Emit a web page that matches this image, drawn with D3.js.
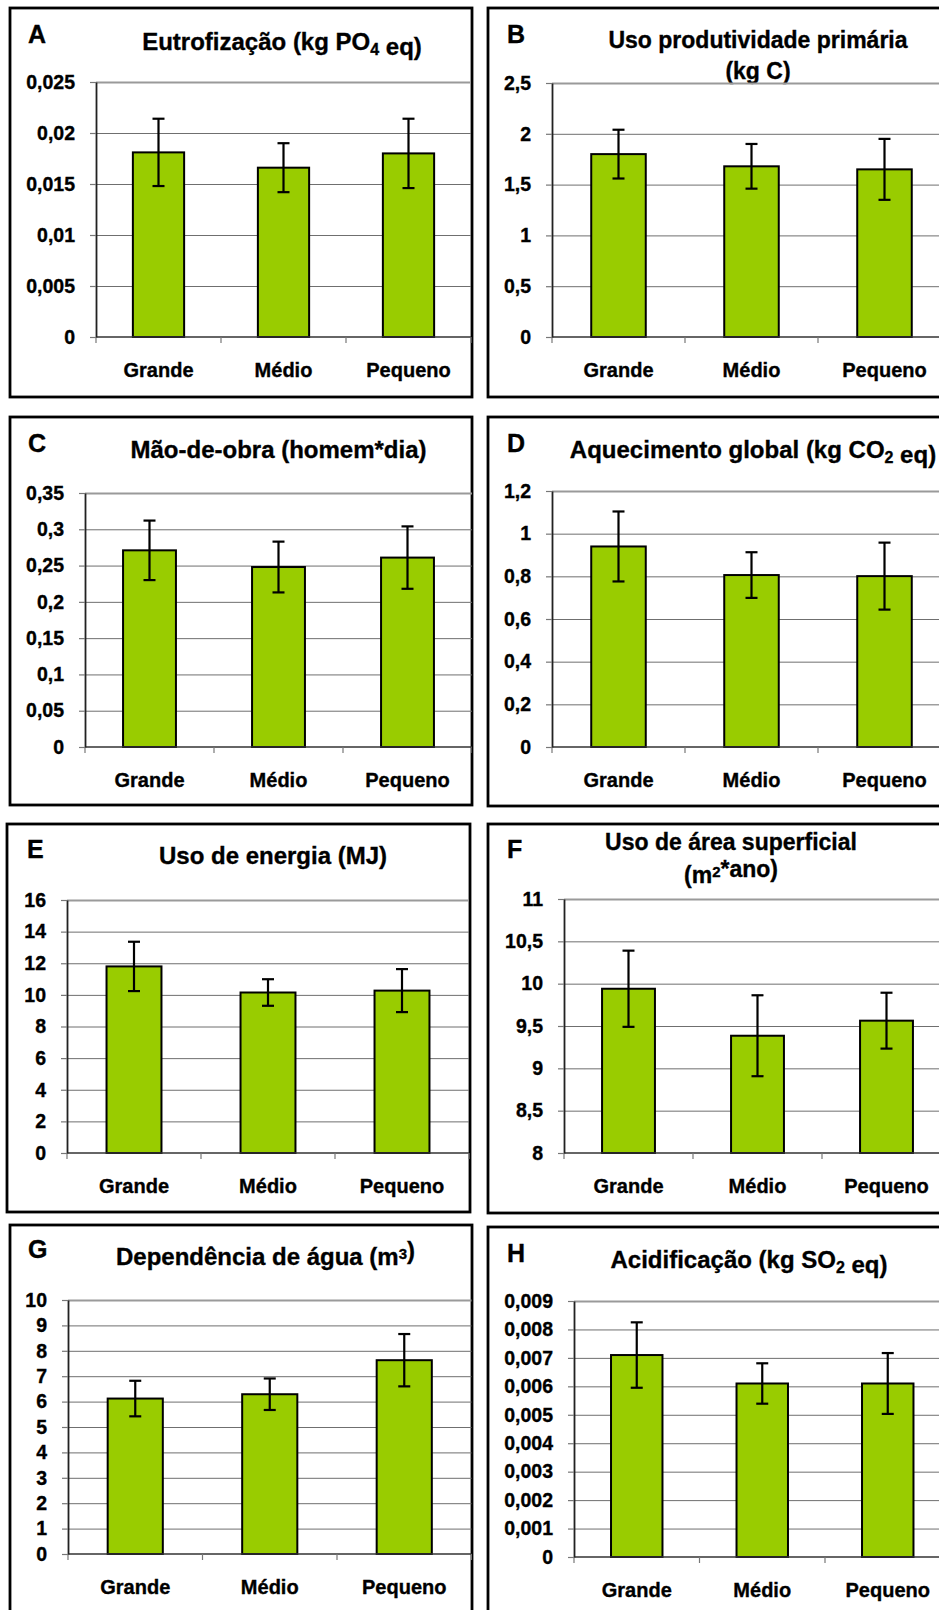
<!DOCTYPE html>
<html><head><meta charset="utf-8">
<script src="https://cdn.jsdelivr.net/npm/d3@7"></script>
<style>
body{margin:0;background:#fff}
svg{display:block}
text{font-family:"Liberation Sans", Arial, Helvetica, sans-serif;font-weight:bold;fill:#000;stroke:#000;stroke-width:0.35px}
</style>
</head><body>
<svg id="chart" width="939" height="1610"></svg>
<script>
// ---------------- DATA ----------------
const categories = ["Grande", "Médio", "Pequeno"];

const valuesA = [0.0181, 0.0166, 0.0180];
const errorsA = [0.0033, 0.0024, 0.0034];
const ticksA  = [0, 0.005, 0.01, 0.015, 0.02, 0.025];

const valuesB = [1.80, 1.68, 1.65];
const errorsB = [0.24, 0.22, 0.30];
const ticksB  = [0, 0.5, 1, 1.5, 2, 2.5];

const valuesC = [0.271, 0.248, 0.261];
const errorsC = [0.041, 0.035, 0.043];
const ticksC  = [0, 0.05, 0.1, 0.15, 0.2, 0.25, 0.3, 0.35];

const valuesD = [0.94, 0.806, 0.801];
const errorsD = [0.164, 0.107, 0.157];
const ticksD  = [0, 0.2, 0.4, 0.6, 0.8, 1, 1.2];

const valuesE = [11.8, 10.15, 10.27];
const errorsE = [1.56, 0.84, 1.36];
const ticksE  = [0, 2, 4, 6, 8, 10, 12, 14, 16];

const valuesF = [9.94, 9.385, 9.563];
const errorsF = [0.45, 0.478, 0.33];
const ticksF  = [8, 8.5, 9, 9.5, 10, 10.5, 11];

const valuesG = [6.12, 6.29, 7.63];
const errorsG = [0.70, 0.62, 1.03];
const ticksG  = [0, 1, 2, 3, 4, 5, 6, 7, 8, 9, 10];

const valuesH = [0.0071, 0.0061, 0.0061];
const errorsH = [0.00115, 0.00071, 0.00107];
const ticksH  = [0, 0.001, 0.002, 0.003, 0.004, 0.005, 0.006, 0.007, 0.008, 0.009];

const letters = ["A", "B", "C", "D", "E", "F", "G", "H"];
const titles = [
  ["Eutrofização (kg PO_{4} eq)"],
  ["Uso produtividade primária", "(kg C)"],
  ["Mão-de-obra (homem*dia)"],
  ["Aquecimento global (kg CO_{2} eq)"],
  ["Uso de energia (MJ)"],
  ["Uso de área superficial", "(m^{2}*ano)"],
  ["Dependência de água (m^{3})"],
  ["Acidificação (kg SO_{2} eq)"]
];

// ---------------- LAYOUT ----------------
const layouts = [
  {frame:[10,8,462,389],    letter:[28,43],   tx:282,   ty:[50],      x0:96,  band:125,   top:82,  bottom:337},
  {frame:[488,8,480,389],   letter:[507,43],  tx:758,   ty:[48,79],   x0:552, band:133,   top:83,  bottom:337},
  {frame:[10,417,462,388],  letter:[28,452],  tx:278.5, ty:[458],     x0:85,  band:129,   top:493, bottom:747},
  {frame:[488,417,480,389], letter:[507,452], tx:753,   ty:[458],     x0:552, band:133,   top:491, bottom:747},
  {frame:[7,824,463,388],   letter:[27,858],  tx:273,   ty:[864],     x0:67,  band:134,   top:900, bottom:1153},
  {frame:[488,824,480,389], letter:[507,858], tx:731,   ty:[850,883], x0:564, band:129,   top:899, bottom:1153},
  {frame:[10,1225,462,420], letter:[28,1258], tx:265.5, ty:[1265],    x0:68,  band:134.5, top:1300, bottom:1554},
  {frame:[488,1227,480,420],letter:[507,1262],tx:749,   ty:[1268],    x0:574, band:125.5, top:1301, bottom:1557}
];
const seriesValues = [valuesA, valuesB, valuesC, valuesD, valuesE, valuesF, valuesG, valuesH];
const seriesErrors = [errorsA, errorsB, errorsC, errorsD, errorsE, errorsF, errorsG, errorsH];
const seriesTicks  = [ticksA, ticksB, ticksC, ticksD, ticksE, ticksF, ticksG, ticksH];

const BAR_FILL = "#99CC00";
const fmt = v => String(+v.toPrecision(6)).replace(".", ",");

const svg = d3.select("#chart");

// appends one title line (with _{sub} / ^{sup} markup) into an existing <text>
function addRichLine(textSel, str, x, y) {
  const parts = str.split(/(_\{[^}]*\}|\^\{[^}]*\})/).filter(s => s.length);
  let first = true;
  parts.forEach(part => {
    let ts;
    if (part.startsWith("_{")) {
      ts = textSel.append("tspan").attr("font-size", "16px").attr("dy", 5).text(part.slice(2, -1));
      textSel.append("tspan").attr("dy", -5).text("");
    } else if (part.startsWith("^{")) {
      ts = textSel.append("tspan").attr("font-size", "15px").attr("dy", -6).text(part.slice(2, -1));
      textSel.append("tspan").attr("dy", 6).text("");
    } else {
      ts = textSel.append("tspan").text(part);
    }
    if (first) { ts.attr("x", x).attr("y", y); first = false; }
  });
}

layouts.forEach((L, i) => {
  const values = seriesValues[i], errors = seriesErrors[i], ticks = seriesTicks[i];
  const g = svg.append("g");
  const [fx, fy, fw, fh] = L.frame;

  g.append("rect").attr("x", fx).attr("y", fy).attr("width", fw).attr("height", fh)
    .attr("fill", "#fff").attr("stroke", "#000").attr("stroke-width", 2.8);

  g.append("text").attr("x", L.letter[0]).attr("y", L.letter[1])
    .attr("font-size", "25px").text(letters[i]);

  const t = g.append("text").attr("text-anchor", "middle")
    .attr("font-size", titles[i].length > 1 ? "23px" : "24px");
  titles[i].forEach((line, k) => addRichLine(t, line, L.tx, L.ty[k]));

  const plotW = 3 * L.band;
  const x = d3.scaleBand().domain(categories)
    .range([L.x0, L.x0 + plotW]).paddingInner(0.59).paddingOuter(0.295);
  const y = d3.scaleLinear().domain([ticks[0], ticks[ticks.length - 1]])
    .range([L.bottom, L.top]);

  const clipId = "clip" + i;
  svg.append("clipPath").attr("id", clipId).append("rect")
    .attr("x", fx).attr("y", fy).attr("width", fw).attr("height", fh);
  const pg = g.append("g").attr("clip-path", `url(#${clipId})`);

  // gridlines
  const grid = pg.append("g").attr("transform", `translate(${L.x0},0)`)
    .call(d3.axisLeft(y).tickValues(ticks.slice(1)).tickSize(-plotW).tickFormat(""));
  grid.select(".domain").remove();
  grid.selectAll(".tick line").attr("stroke", "#6f6f6f").attr("stroke-width", 1);
  grid.selectAll(".tick").filter(d => d === ticks[ticks.length - 1])
    .select("line").attr("stroke", "#9a9a9a").attr("stroke-width", 2);

  // bars
  pg.selectAll("rect.bar").data(values).join("rect").attr("class", "bar")
    .attr("x", (d, j) => x(categories[j]))
    .attr("width", x.bandwidth())
    .attr("y", d => y(d))
    .attr("height", d => y(ticks[0]) - y(d))
    .attr("fill", BAR_FILL).attr("stroke", "#000").attr("stroke-width", 2);

  // x axis line
  pg.append("line").attr("x1", L.x0).attr("x2", L.x0 + plotW)
    .attr("y1", y(ticks[0])).attr("y2", y(ticks[0]))
    .attr("stroke", "#333").attr("stroke-width", 1.6);

  // category tick marks
  const step = x.step();
  pg.selectAll("line.xt").data(d3.range(4)).join("line").attr("class", "xt")
    .attr("x1", k => L.x0 + k * step).attr("x2", k => L.x0 + k * step)
    .attr("y1", y(ticks[0])).attr("y2", y(ticks[0]) + 6)
    .attr("stroke", "#777").attr("stroke-width", 1.2);

  // error bars
  const eb = pg.append("g").attr("stroke", "#000").attr("stroke-width", 2.2);
  values.forEach((v, j) => {
    const cx = x(categories[j]) + x.bandwidth() / 2;
    const yHi = y(v + errors[j]), yLo = y(v - errors[j]);
    eb.append("line").attr("x1", cx).attr("x2", cx).attr("y1", yHi).attr("y2", yLo);
    eb.append("line").attr("x1", cx - 6).attr("x2", cx + 6).attr("y1", yHi).attr("y2", yHi);
    eb.append("line").attr("x1", cx - 6).attr("x2", cx + 6).attr("y1", yLo).attr("y2", yLo);
  });

  // y axis
  const ya = g.append("g").attr("transform", `translate(${L.x0},0)`)
    .call(d3.axisLeft(y).tickValues(ticks).tickSizeInner(6).tickSizeOuter(0).tickPadding(15).tickFormat(fmt));
  ya.select(".domain").attr("stroke", "#222").attr("stroke-width", 1.8);
  ya.selectAll(".tick line").attr("stroke", "#777").attr("stroke-width", 1.2);
  ya.selectAll(".tick text").attr("font-size", "19.5px").attr("fill", "#000")
    .attr("font-family", "'Liberation Sans', Arial, sans-serif").attr("font-weight", "bold");

  // category labels
  g.selectAll("text.cat").data(categories).join("text").attr("class", "cat")
    .attr("x", d => x(d) + x.bandwidth() / 2)
    .attr("y", L.bottom + 40)
    .attr("text-anchor", "middle").attr("font-size", "20px")
    .text(d => d);
});
</script>
</body></html>
